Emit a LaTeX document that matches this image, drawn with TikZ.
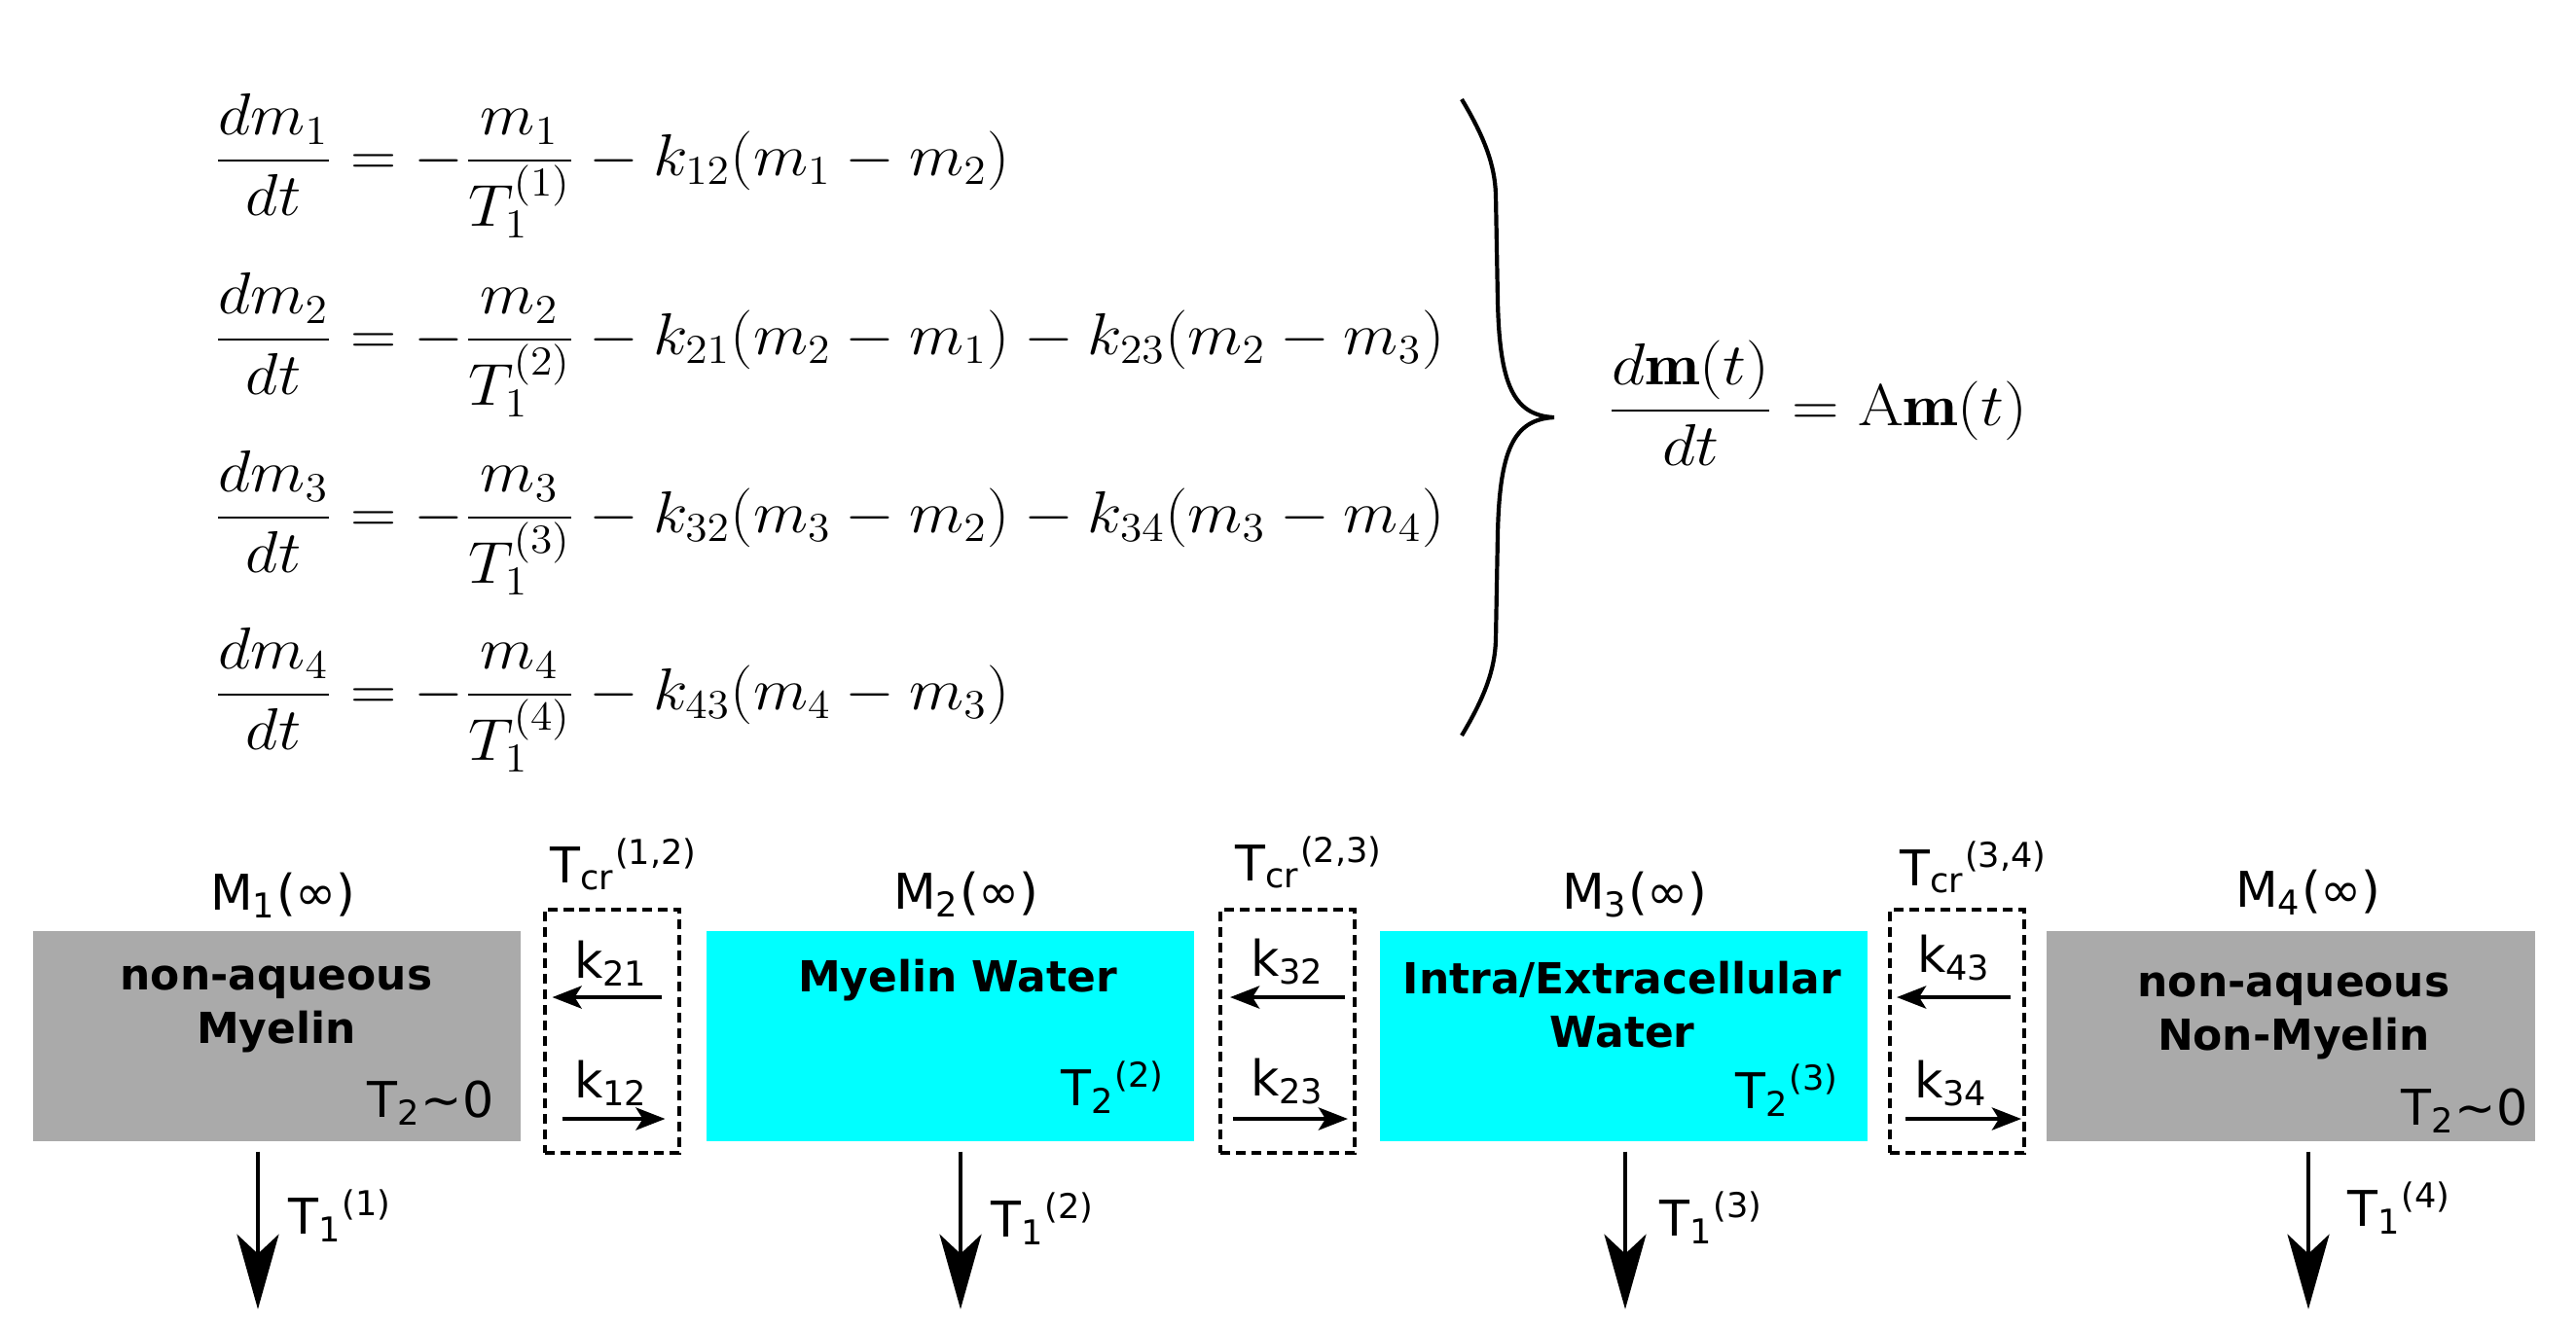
\documentclass[tikz,border=0pt]{standalone}
\usepackage{fontspec}
\usepackage{graphicx}
\setsansfont{DejaVu Sans}
\usetikzlibrary{arrows.meta, positioning}
\definecolor{nonaq}{HTML}{AAAAAA}
\definecolor{water}{HTML}{00FFFF}

\begin{document}
\begin{tikzpicture}[
      pool/.style={minimum width=5.01cm, minimum height=2.16cm, inner sep=0pt, draw=none},
      exch/.style={draw, line width=0.04cm, dash pattern=on 0.1cm off 0.06cm, minimum width=1.38cm, minimum height=2.5cm, inner sep=0pt},
      lbl/.style={font=\sffamily\fontsize{14.4}{17}\selectfont, inner sep=0pt},
      pooltext/.style={font=\sffamily\bfseries\fontsize{12.5}{15.6}\selectfont, align=center, inner sep=0pt, anchor=base},
      eqn/.style={font=\fontsize{17.28}{21}\selectfont, inner sep=0pt, anchor=base west},
      decay/.style={line width=0.045cm, -{Stealth[length=0.77cm, width=0.43cm, inset=0.2cm]}},
      rate/.style={line width=0.048cm, -{Stealth[length=0.3cm, width=0.23cm, inset=0.07cm]}}
    ]
      \useasboundingbox (0,0) rectangle (26.47,-13.64);

      % rate equations
      \node[eqn] (eq1) at (2.19,-1.80) {\scalebox{1.078}[1]{$\displaystyle \frac{dm_1}{dt} = -\frac{m_1}{T_1^{(1)}} - k_{12}(m_1 - m_2)$}};
      \node[eqn] (eq2) at (2.19,-3.64) {\scalebox{1.078}[1]{$\displaystyle \frac{dm_2}{dt} = -\frac{m_2}{T_1^{(2)}} - k_{21}(m_2 - m_1) - k_{23}(m_2 - m_3)$}};
      \node[eqn] (eq3) at (2.19,-5.47) {\scalebox{1.078}[1]{$\displaystyle \frac{dm_3}{dt} = -\frac{m_3}{T_1^{(3)}} - k_{32}(m_3 - m_2) - k_{34}(m_3 - m_4)$}};
      \node[eqn] (eq4) at (2.19,-7.29) {\scalebox{1.078}[1]{$\displaystyle \frac{dm_4}{dt} = -\frac{m_4}{T_1^{(4)}} - k_{43}(m_4 - m_3)$}};
      \node[eqn] (eqA) at (16.51,-4.37) {\scalebox{1.11}[1]{$\displaystyle \frac{d\mathbf{m}(t)}{dt} = \mathrm{A}\mathbf{m}(t)$}};

      % brace
      \draw[line width=0.042cm] (15.02,-1.02) .. controls (15.26,-1.42) and (15.36,-1.70) .. (15.37,-2.00)
        -- (15.39,-3.10) .. controls (15.41,-3.95) and (15.55,-4.27) .. (15.97,-4.29)
        .. controls (15.55,-4.31) and (15.41,-4.63) .. (15.39,-5.48)
        -- (15.37,-6.58) .. controls (15.36,-6.88) and (15.26,-7.16) .. (15.02,-7.56);

      % pools
      \node[pool, fill=nonaq] (p1) at (2.845,-10.65) {};
      \node[pool, fill=water] (p2) at (9.765,-10.65) {};
      \node[pool, fill=water] (p3) at (16.685,-10.65) {};
      \node[pool, fill=nonaq, minimum width=5.02cm] (p4) at (23.54,-10.65) {};

      \node[pooltext] (p1t) at (2.84,-10.72) {non-aqueous\\Myelin};
      \node[pooltext] (p2t) at (9.84,-10.19) {Myelin Water};
      \node[pooltext] (p3t) at (16.67,-10.76) {Intra/Extracellular\\Water};
      \node[pooltext] (p4t) at (23.57,-10.79) {non-aqueous\\Non-Myelin};

      \node[lbl, anchor=base east] (p1r) at (5.08,-11.48) {T\textsubscript{2}\textasciitilde 0};
      \node[lbl, anchor=base east] (p2r) at (11.98,-11.36) {T\textsubscript{2}\textsuperscript{(2)}};
      \node[lbl, anchor=base east] (p3r) at (18.91,-11.39) {T\textsubscript{2}\textsuperscript{(3)}};
      \node[lbl, anchor=base east] (p4r) at (25.98,-11.56) {T\textsubscript{2}\textasciitilde 0};

      \node[lbl, anchor=base] (m1) at (2.91,-9.35) {M\textsubscript{1}(∞)};
      \node[lbl, anchor=base] (m2) at (9.93,-9.34) {M\textsubscript{2}(∞)};
      \node[lbl, anchor=base] (m3) at (16.80,-9.34) {M\textsubscript{3}(∞)};
      \node[lbl, anchor=base] (m4) at (23.72,-9.32) {M\textsubscript{4}(∞)};

      % exchange between pools
      \node[exch] (x12) at (6.285,-10.60) {};
      \node[exch] (x23) at (13.23,-10.60) {};
      \node[exch] (x34) at (20.11,-10.60) {};

      \node[lbl, anchor=base west] (t12) at (5.65,-9.07) {T\textsubscript{cr}\textsuperscript{(1,2)}};
      \node[lbl, anchor=base west] (t23) at (12.69,-9.05) {T\textsubscript{cr}\textsuperscript{(2,3)}};
      \node[lbl, anchor=base west] (t34) at (19.52,-9.10) {T\textsubscript{cr}\textsuperscript{(3,4)}};

      \node[lbl, anchor=base] (k21) at (6.28,-10.05) {k\textsubscript{21}};
      \node[lbl, anchor=base] (k12) at (6.28,-11.28) {k\textsubscript{12}};
      \node[lbl, anchor=base] (k32) at (13.23,-10.03) {k\textsubscript{32}};
      \node[lbl, anchor=base] (k23) at (13.23,-11.26) {k\textsubscript{23}};
      \node[lbl, anchor=base] (k43) at (20.08,-9.99) {k\textsubscript{43}};
      \node[lbl, anchor=base] (k34) at (20.05,-11.28) {k\textsubscript{34}};

      \draw[rate] ([shift={(-0.2,0.35)}]x12.east) -- ([shift={(0.1,0.35)}]x12.west);
      \draw[rate] ([shift={(0.2,-0.9)}]x12.west) -- ([shift={(-0.16,-0.9)}]x12.east);
      \draw[rate] ([shift={(-0.12,0.35)}]x23.east) -- ([shift={(0.12,0.35)}]x23.west);
      \draw[rate] ([shift={(0.15,-0.9)}]x23.west) -- ([shift={(-0.09,-0.9)}]x23.east);
      \draw[rate] ([shift={(-0.16,0.35)}]x34.east) -- ([shift={(0.09,0.35)}]x34.west);
      \draw[rate] ([shift={(0.18,-0.9)}]x34.west) -- ([shift={(-0.05,-0.9)}]x34.east);

      % longitudinal relaxation
      \draw[decay] ([shift={(-0.195,-0.1)}]p1.south) -- ([shift={(-0.195,-1.72)}]p1.south);
      \draw[decay] ([shift={(0.105,-0.1)}]p2.south) -- ([shift={(0.105,-1.72)}]p2.south);
      \draw[decay] ([shift={(0.015,-0.1)}]p3.south) -- ([shift={(0.015,-1.72)}]p3.south);
      \draw[decay] ([shift={(0.18,-0.1)}]p4.south) -- ([shift={(0.18,-1.72)}]p4.south);

      \node[lbl, anchor=base west] (r1) at (2.96,-12.68) {T\textsubscript{1}\textsuperscript{(1)}};
      \node[lbl, anchor=base west] (r2) at (10.18,-12.71) {T\textsubscript{1}\textsuperscript{(2)}};
      \node[lbl, anchor=base west] (r3) at (17.05,-12.70) {T\textsubscript{1}\textsuperscript{(3)}};
      \node[lbl, anchor=base west] (r4) at (24.12,-12.60) {T\textsubscript{1}\textsuperscript{(4)}};
    \end{tikzpicture}
\end{document}
